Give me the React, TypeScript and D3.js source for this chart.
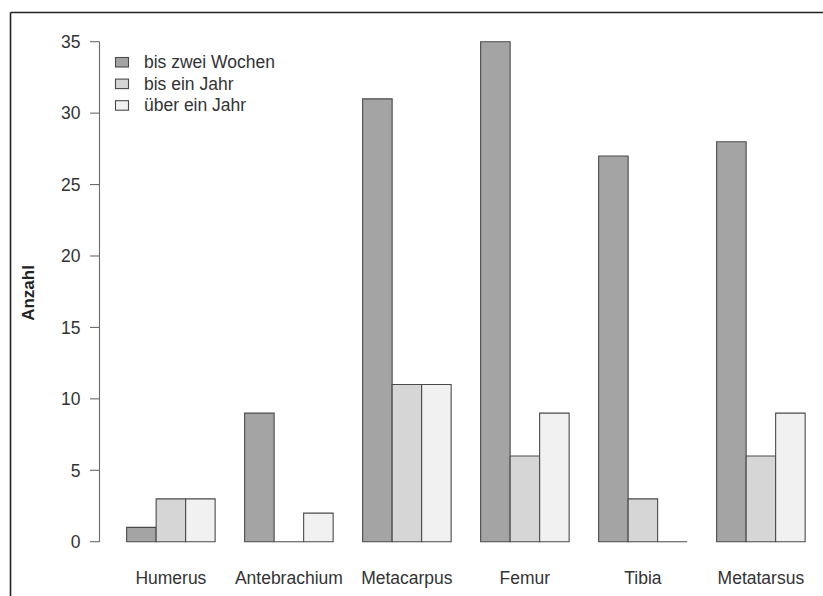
import React from "react";
import * as d3 from "d3";

const categories = ["Humerus", "Antebrachium", "Metacarpus", "Femur", "Tibia", "Metatarsus"];
const seriesNames = ["bis zwei Wochen", "bis ein Jahr", "über ein Jahr"];
const zweiWochen = [1, 9, 31, 35, 27, 28];
const einJahr = [3, 0, 11, 6, 3, 6];
const ueberJahr = [3, 2, 11, 9, 0, 9];
const yTicks = [0, 5, 10, 15, 20, 25, 30, 35];
const fills = ["#a4a4a4", "#d6d6d6", "#f1f1f1"];

export default function App() {
  const W = 823, H = 596;
  const series = [zweiWochen, einJahr, ueberJahr];
  const nGroups = categories.length;
  const nSeries = series.length;
  const unitsTotal = nGroups * (nSeries + 1);
  const ext = (unitsTotal - 1) * 0.04;
  const x = d3.scaleLinear().domain([1 - ext, unitsTotal + ext]).range([99.5, 99.5 + (unitsTotal - 1 + 2 * ext) * 29.5]);
  const y = d3.scaleLinear().domain([0, 35]).range([541.7, 41.7]);
  const font = "Liberation Sans, Arial, Helvetica, sans-serif";
  const fs = 17.5;

  const bars: { d: string; fill: string; key: string }[] = [];
  categories.forEach((c, i) => {
    series.forEach((s, j) => {
      const u0 = i * (nSeries + 1) + 1 + j;
      const x0 = x(u0), x1 = x(u0 + 1);
      const y0 = y(0), y1 = y(s[i]);
      const p = d3.path();
      p.moveTo(x0, y0);
      p.lineTo(x0, y1);
      p.lineTo(x1, y1);
      p.lineTo(x1, y0);
      p.closePath();
      bars.push({ d: p.toString(), fill: fills[j], key: `${i}-${j}` });
    });
  });

  return (
    <svg width={W} height={H} style={{ position: "absolute", left: 0, top: 0, display: "block" }} fontFamily={font}>
      <rect x={0} y={0} width={W} height={H} fill="#ffffff" />
      <line x1={10.5} y1={12.5} x2={W} y2={12.5} stroke="#222" strokeWidth={1.6} />
      <line x1={10.5} y1={12.5} x2={10.5} y2={H} stroke="#222" strokeWidth={1.6} />
      {bars.map((b) => (
        <path key={b.key} d={b.d} fill={b.fill} stroke="#4a4a4a" strokeWidth={1.1} />
      ))}
      <line x1={99.5} x2={99.5} y1={y(0)} y2={y(35)} stroke="#6a6a6a" strokeWidth={1.1} />
      {yTicks.map((t) => (
        <g key={t}>
          <line x1={90} x2={99.5} y1={y(t)} y2={y(t)} stroke="#6a6a6a" strokeWidth={1.1} />
          <text x={80.5} y={y(t)} dy="0.36em" textAnchor="end" fontSize={fs} fill="#333">{t}</text>
        </g>
      ))}
      {categories.map((c, i) => (
        <text key={c} x={x(i * (nSeries + 1) + 1 + nSeries / 2)} y={584} textAnchor="middle" fontSize={fs} fill="#333">{c}</text>
      ))}
      <text transform={`translate(34,293) rotate(-90)`} textAnchor="middle" fontSize={17} fontWeight="bold" fill="#222">Anzahl</text>
      {seriesNames.map((n, j) => (
        <g key={n}>
          <rect x={115.5} y={57.5 + j * 21.6} width={13} height={9.5} fill={fills[j]} stroke="#4a4a4a" strokeWidth={1.1} />
          <text x={144} y={68.3 + j * 21.3} fontSize={fs} fill="#333">{n}</text>
        </g>
      ))}
    </svg>
  );
}
